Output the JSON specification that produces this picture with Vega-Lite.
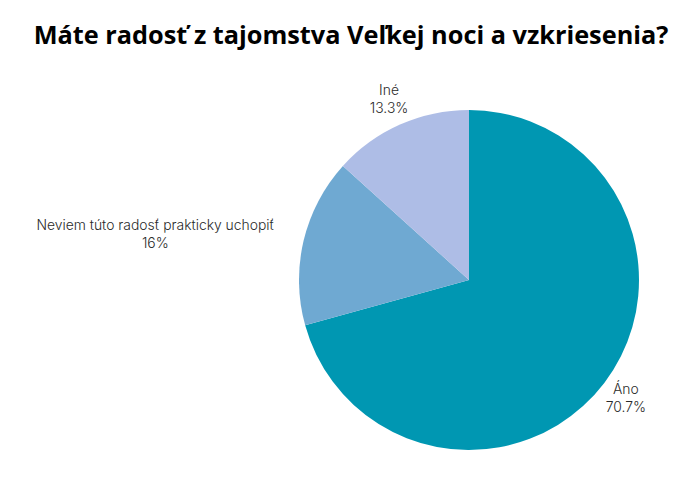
{
  "$schema": "https://vega.github.io/schema/vega-lite/v6.json",
  "autosize": {"type": "none"},
  "padding": {"left": 299, "top": 110, "right": 61, "bottom": 50},
  "width": 340,
  "height": 340,
  "background": "white",
  "view": {"stroke": null},
  "title": {
    "text": "Máte radosť z tajomstva Veľkej noci a vzkriesenia?",
    "font": "Open Sans",
    "fontWeight": "bold",
    "fontSize": 25.3,
    "color": "black",
    "anchor": "middle",
    "baseline": "alphabetic",
    "offset": 15,
    "dx": -118
  },
  "data": {
    "values": [
      {"odpoved": "Áno", "podiel": 0.707, "poradie": 1},
      {"odpoved": "Neviem túto radosť prakticky uchopiť", "podiel": 0.16, "poradie": 2},
      {"odpoved": "Iné", "podiel": 0.133, "poradie": 3}
    ]
  },
  "encoding": {
    "theta": {"field": "podiel", "type": "quantitative", "stack": true},
    "order": {"field": "poradie", "type": "quantitative"},
    "color": {
      "field": "odpoved",
      "type": "nominal",
      "scale": {
        "domain": ["Áno", "Neviem túto radosť prakticky uchopiť", "Iné"],
        "range": ["#0097b2", "#6fa9d2", "#aebde6"]
      },
      "legend": null
    }
  },
  "layer": [
    {"mark": {"type": "arc"}},
    {
      "mark": {"type": "text", "radius": 197, "dy": -9, "font": "Inter", "fontSize": 13.9, "fontWeight": 300},
      "encoding": {
        "color": {"value": "#2a2a2a"},
        "text": {"condition": {"test": "datum.poradie !== 2", "field": "odpoved"}, "value": ""}
      }
    },
    {
      "mark": {"type": "text", "radius": 197, "dy": 9, "font": "Inter", "fontSize": 13.9, "fontWeight": 300},
      "encoding": {
        "color": {"value": "#2a2a2a"},
        "text": {"condition": {"test": "datum.poradie !== 2", "field": "podiel", "format": ".3~%"}, "value": ""}
      }
    },
    {
      "mark": {"type": "text", "radius": 197, "dy": -9, "dx": -122, "font": "Inter", "fontSize": 13.9, "fontWeight": 300},
      "encoding": {
        "color": {"value": "#2a2a2a"},
        "text": {"condition": {"test": "datum.poradie === 2", "field": "odpoved"}, "value": ""}
      }
    },
    {
      "mark": {"type": "text", "radius": 197, "dy": 9, "dx": -122, "font": "Inter", "fontSize": 13.9, "fontWeight": 300},
      "encoding": {
        "color": {"value": "#2a2a2a"},
        "text": {"condition": {"test": "datum.poradie === 2", "field": "podiel", "format": ".3~%"}, "value": ""}
      }
    }
  ]
}
